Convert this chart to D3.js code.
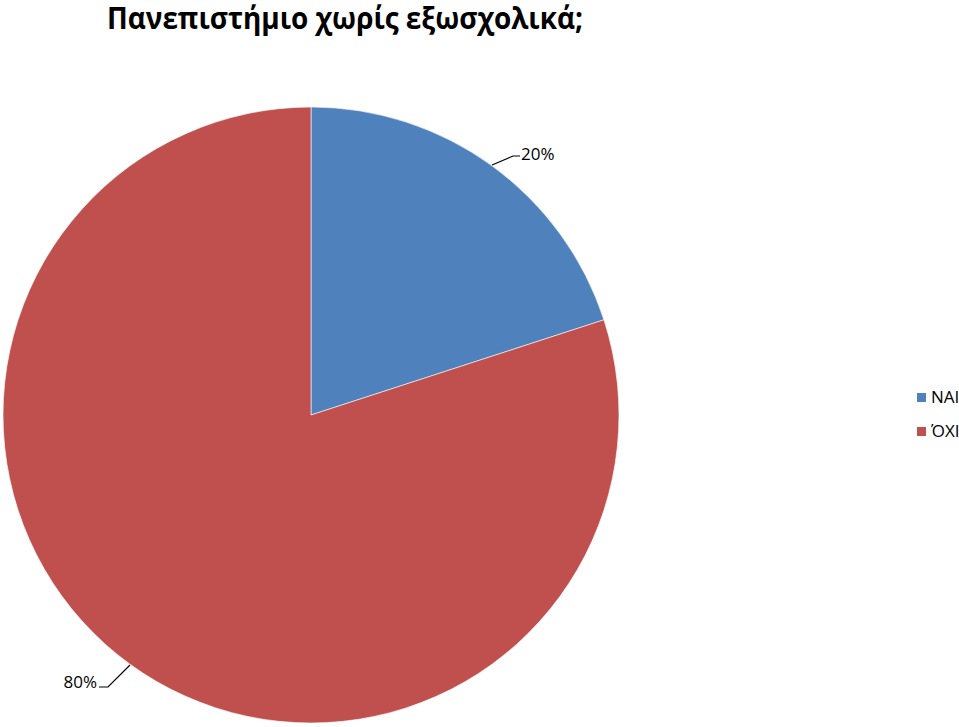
<!DOCTYPE html>
<html><head><meta charset="utf-8">
<script src="https://cdn.jsdelivr.net/npm/d3@7"></script>
<style>body{margin:0;background:#fff}svg{display:block}</style>
</head><body>
<script>
const title = "Πανεπιστήμιο χωρίς εξωσχολικά;";
const categories = ["NAI", "ΌΧΙ"];
const values = [20, 80];
const labels = ["20%", "80%"];
const colors = ["#4F81BD", "#C0504D"];

const W = 959, H = 727;
const svg = d3.select("body").append("svg").attr("width", W).attr("height", H);
const font = "'Open Sans', 'Noto Sans', sans-serif";

svg.append("text").attr("x", 107).attr("y", 29)
  .attr("font-family", font).attr("font-weight", "bold").attr("font-size", 30)
  .attr("textLength", 476).attr("lengthAdjust", "spacingAndGlyphs")
  .attr("fill", "#000").text(title);

const cx = 311, cy = 415, r = 308;
const g = svg.append("g").attr("transform", `translate(${cx},${cy})`);
const pie = d3.pie().sort(null).value(d => d)(values);
const arc = d3.arc().innerRadius(0).outerRadius(r);
g.selectAll("path").data(pie).join("path")
  .attr("d", arc).attr("fill", (d, i) => colors[i])
  .attr("stroke", "#fff").attr("stroke-width", 0.6);

// leader lines and labels
const leaders = [
  {pts: [[492,165],[513,156],[520,156]], tx: 521, ty: 160, anchor: "start"},
  {pts: [[130,665],[108,687],[99,687]], tx: 97, ty: 688, anchor: "end"}
];
leaders.forEach((l, i) => {
  svg.append("path").attr("d", d3.line()(l.pts)).attr("fill", "none")
    .attr("stroke", "#000").attr("stroke-width", 1.2);
  svg.append("text").attr("x", l.tx).attr("y", l.ty).attr("text-anchor", l.anchor)
    .attr("font-family", font).attr("font-size", 17).attr("fill", "#000").text(labels[i]);
});

// legend
const leg = svg.append("g");
categories.forEach((c, i) => {
  const y = 393 + i * 34;
  leg.append("rect").attr("x", 917).attr("y", y).attr("width", 9).attr("height", 9).attr("fill", colors[i]);
  leg.append("text").attr("x", 931).attr("y", y + 10).attr("font-family", font)
    .attr("font-size", 17).attr("fill", "#000").text(c);
});
</script>
</body></html>
